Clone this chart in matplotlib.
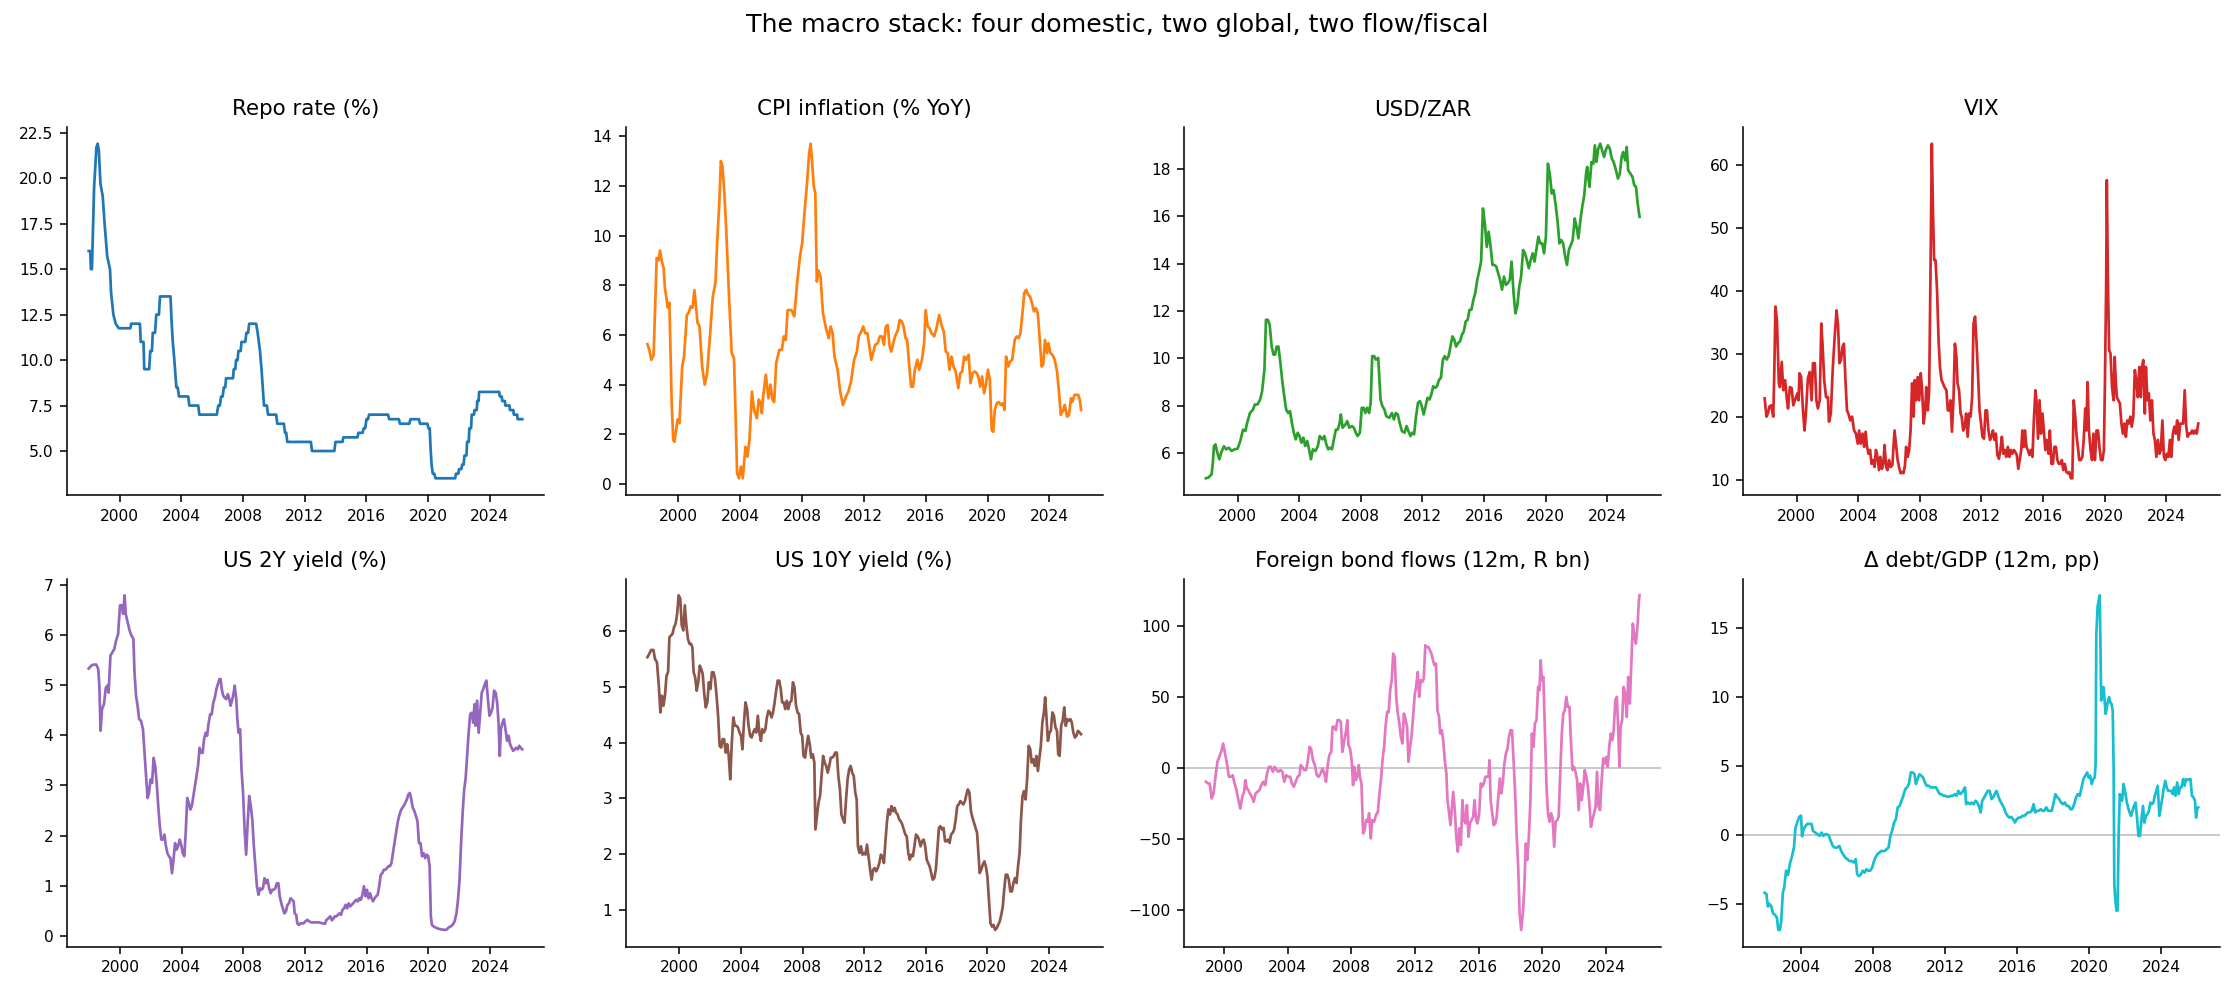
import matplotlib
matplotlib.use("Agg")
import matplotlib.pyplot as plt
from matplotlib.ticker import MultipleLocator, FuncFormatter

# ---------------- data (decimal year, value) ----------------
repo = [(1998.00,16.0),(1998.10,16.0),(1998.14,15.0),(1998.21,15.0),(1998.35,19.5),(1998.50,21.7),(1998.58,21.9),
        (1998.66,21.5),(1998.76,19.7),(1998.91,19.0),(1999.03,17.5),(1999.20,15.7),(1999.38,15.0),(1999.45,13.7),
        (1999.60,12.5),(1999.75,12.0),(1999.95,11.75),(2000.70,11.75),(2000.75,12.0),(2001.32,12.0),(2001.37,11.0),
        (2001.55,11.0),(2001.60,9.5),(2001.92,9.5),(2001.99,10.5),(2002.10,10.5),(2002.15,11.5),(2002.30,11.5),
        (2002.38,12.5),(2002.55,12.5),(2002.62,13.5),(2003.30,13.5),(2003.38,12.0),(2003.45,11.0),(2003.55,10.0),
        (2003.68,8.5),(2003.77,8.5),(2003.85,8.0),(2004.45,8.0),(2004.52,7.5),(2005.10,7.5),(2005.17,7.0),
        (2006.30,7.0),(2006.40,7.5),(2006.50,7.5),(2006.58,8.0),(2006.68,8.0),(2006.76,8.5),(2006.85,8.5),
        (2006.90,9.0),(2007.35,9.0),(2007.40,9.5),(2007.50,9.5),(2007.55,10.0),(2007.65,10.0),(2007.70,10.5),
        (2007.85,10.5),(2007.90,11.0),(2008.15,11.0),(2008.22,11.5),(2008.33,11.5),(2008.40,12.0),(2008.85,12.0),
        (2008.95,11.5),(2009.10,10.5),(2009.20,9.5),(2009.28,8.5),(2009.36,7.5),(2009.55,7.5),(2009.62,7.0),
        (2010.15,7.0),(2010.22,6.5),(2010.65,6.5),(2010.72,6.0),(2010.80,6.0),(2010.87,5.5),(2012.40,5.5),
        (2012.47,5.0),(2013.92,5.0),(2013.99,5.5),(2014.45,5.5),(2014.50,5.75),(2015.42,5.75),(2015.48,6.0),
        (2015.75,6.0),(2015.82,6.25),(2015.92,6.25),(2016.00,6.75),(2016.10,6.75),(2016.17,7.0),(2017.40,7.0),
        (2017.47,6.75),(2018.10,6.75),(2018.17,6.5),(2018.78,6.5),(2018.85,6.75),(2019.40,6.75),(2019.47,6.5),
        (2019.95,6.5),(2020.02,6.25),(2020.10,6.25),(2020.15,5.25),(2020.22,4.25),(2020.30,3.75),(2020.40,3.75),
        (2020.47,3.5),(2021.75,3.5),(2021.80,3.75),(2021.95,3.75),(2022.00,4.0),(2022.15,4.0),(2022.20,4.25),
        (2022.30,4.25),(2022.35,4.75),(2022.48,4.75),(2022.52,5.5),(2022.63,5.5),(2022.67,6.25),(2022.78,6.25),
        (2022.82,7.0),(2022.97,7.0),(2023.00,7.25),(2023.15,7.25),(2023.18,7.75),(2023.27,7.75),(2023.30,8.25),
        (2024.60,8.25),(2024.65,8.0),(2024.77,8.0),(2024.80,7.75),(2024.97,7.75),(2025.00,7.5),(2025.27,7.5),
        (2025.30,7.25),(2025.52,7.25),(2025.55,7.0),(2025.77,7.0),(2025.80,6.75),(2026.10,6.75)]

cpi = [(1998.00,5.63),(1998.12,5.4),(1998.25,5.0),(1998.4,5.2),(1998.6,9.1),(1998.72,9.0),(1998.82,9.4),(1998.93,8.96),
       (1999.05,8.7),(1999.13,7.9),(1999.25,7.4),(1999.32,7.1),(1999.42,7.3),(1999.57,3.25),(1999.67,1.77),(1999.75,1.7),
       (1999.95,2.6),(2000.07,2.45),(2000.25,4.73),(2000.37,5.13),(2000.55,6.8),(2000.67,6.9),(2000.8,7.15),(2000.92,7.1),
       (2001.04,7.8),(2001.24,6.5),(2001.37,6.34),(2001.54,4.73),(2001.71,4.0),(2001.86,4.46),(2002.06,6.07),(2002.23,7.55),
       (2002.4,8.1),(2002.53,9.97),(2002.65,11.3),(2002.75,13.0),(2002.85,12.8),(2002.98,11.7),(2003.1,10.2),(2003.28,7.55),
       (2003.45,5.27),(2003.6,5.07),(2003.7,2.85),(2003.8,0.43),(2003.92,0.23),(2004.05,0.7),(2004.17,0.23),(2004.34,1.5),
       (2004.47,1.1),(2004.6,1.77),(2004.76,3.72),(2004.9,2.98),(2005.08,2.65),(2005.2,3.4),(2005.33,3.25),(2005.4,2.85),
       (2005.5,3.59),(2005.66,4.4),(2005.83,3.45),(2005.96,4.0),(2006.08,3.4),(2006.2,3.3),(2006.33,4.87),(2006.53,5.4),
       (2006.7,5.4),(2006.82,5.94),(2006.95,5.8),(2007.07,7.0),(2007.32,7.0),(2007.5,6.75),(2007.7,8.2),(2007.87,9.16),
       (2008.01,9.7),(2008.14,10.77),(2008.31,12.0),(2008.46,13.3),(2008.56,13.7),(2008.66,12.9),(2008.76,12.0),
       (2008.86,11.7),(2008.96,8.15),(2009.06,8.6),(2009.2,8.35),(2009.35,6.9),(2009.55,6.27),(2009.73,5.87),
       (2009.85,6.34),(2009.98,6.07),(2010.1,5.13),(2010.3,4.6),(2010.47,3.72),(2010.65,3.18),(2010.84,3.52),(2011.0,3.72),
       (2011.17,4.12),(2011.37,5.0),(2011.55,5.33),(2011.67,5.94),(2011.84,6.14),(2011.96,6.34),(2012.09,6.07),
       (2012.23,6.07),(2012.36,5.54),(2012.48,5.0),(2012.6,5.27),(2012.73,5.6),(2012.9,5.67),(2013.03,5.94),(2013.18,5.94),
       (2013.3,5.6),(2013.42,6.34),(2013.54,6.4),(2013.67,5.54),(2013.77,5.33),(2013.9,5.67),(2014.02,5.94),(2014.2,6.2),
       (2014.32,6.6),(2014.45,6.55),(2014.57,6.34),(2014.7,5.87),(2014.8,5.8),(2014.96,4.6),(2015.06,3.92),(2015.18,3.92),
       (2015.3,4.6),(2015.46,5.0),(2015.58,4.6),(2015.76,5.0),(2015.9,5.67),(2016.0,7.0),(2016.13,6.34),(2016.25,6.27),
       (2016.38,6.07),(2016.55,5.94),(2016.7,6.27),(2016.87,6.8),(2017.05,6.34),(2017.17,6.14),(2017.3,5.33),(2017.42,5.27),
       (2017.54,4.6),(2017.67,5.13),(2017.8,4.73),(2017.94,4.53),(2018.11,3.86),(2018.24,4.46),(2018.36,4.53),
       (2018.49,5.13),(2018.6,5.0),(2018.78,5.2),(2018.9,4.06),(2019.03,4.46),(2019.18,4.53),(2019.3,4.46),(2019.4,4.33),
       (2019.53,3.92),(2019.65,4.33),(2019.78,3.65),(2019.9,4.0),(2020.03,4.6),(2020.15,4.2),(2020.27,2.18),(2020.37,2.1),
       (2020.47,2.98),(2020.6,3.25),(2020.72,3.3),(2020.87,3.18),(2021.0,3.25),(2021.1,2.98),(2021.2,5.13),(2021.34,4.73),
       (2021.46,4.93),(2021.6,5.0),(2021.76,5.8),(2021.89,5.94),(2022.01,5.87),(2022.13,6.07),(2022.26,6.88),(2022.38,7.69),
       (2022.5,7.82),(2022.63,7.62),(2022.75,7.55),(2022.88,7.28),(2023.0,6.95),(2023.13,7.08),(2023.25,6.88),
       (2023.35,6.07),(2023.5,4.73),(2023.6,4.8),(2023.72,5.8),(2023.85,5.27),(2023.94,5.67),(2024.07,5.27),(2024.2,5.2),
       (2024.35,5.0),(2024.5,4.53),(2024.62,3.72),(2024.74,2.78),(2024.9,2.98),(2025.0,3.18),(2025.15,2.71),(2025.27,2.78),
       (2025.4,3.45),(2025.5,3.32),(2025.63,3.59),(2025.75,3.59),(2025.87,3.59),(2025.97,3.39),(2026.05,2.98)]

zar = [(1997.94,4.95),(1998.1,4.98),(1998.31,5.12),(1998.39,5.6),(1998.46,6.3),(1998.56,6.38),(1998.68,6.03),(1998.81,5.75),
       (1998.93,6.03),(1999.11,6.3),(1999.26,6.17),(1999.43,6.24),(1999.6,6.1),(1999.8,6.17),(2000.0,6.2),(2000.17,6.52),
       (2000.35,7.0),(2000.5,6.94),(2000.62,7.29),(2000.8,7.7),(2001.0,7.85),(2001.12,8.06),(2001.29,8.06),(2001.46,8.27),
       (2001.59,8.62),(2001.74,9.53),(2001.84,11.63),(2001.96,11.63),(2002.08,11.42),(2002.21,10.5),(2002.33,10.16),
       (2002.43,10.16),(2002.53,10.5),(2002.65,10.5),(2002.78,9.8),(2002.9,9.04),(2003.03,8.4),(2003.15,7.85),(2003.28,7.7),
       (2003.4,7.78),(2003.52,7.29),(2003.65,6.87),(2003.77,6.59),(2003.9,6.87),(2004.02,6.73),(2004.14,6.45),(2004.27,6.66),
       (2004.39,6.31),(2004.52,6.52),(2004.64,6.17),(2004.76,5.75),(2004.89,6.17),(2005.06,6.1),(2005.21,6.31),
       (2005.33,6.73),(2005.51,6.59),(2005.63,6.73),(2005.76,6.38),(2005.88,6.17),(2006.0,6.24),(2006.13,6.17),
       (2006.25,6.59),(2006.38,7.0),(2006.5,7.0),(2006.63,7.29),(2006.7,7.64),(2006.82,7.08),(2007.0,7.22),(2007.12,7.36),
       (2007.25,7.08),(2007.42,7.15),(2007.55,7.08),(2007.67,6.87),(2007.79,6.73),(2007.94,6.87),(2008.06,7.92),
       (2008.18,7.92),(2008.29,7.7),(2008.41,7.92),(2008.54,7.7),(2008.64,8.13),(2008.74,10.1),(2008.86,10.1),
       (2008.98,9.95),(2009.13,10.02),(2009.28,8.27),(2009.4,7.99),(2009.53,7.85),(2009.65,7.57),(2009.85,7.5),
       (2010.02,7.7),(2010.15,7.43),(2010.27,7.7),(2010.4,7.64),(2010.52,7.29),(2010.67,6.94),(2010.84,6.87),
       (2010.97,7.15),(2011.09,6.94),(2011.22,6.73),(2011.34,6.87),(2011.46,6.8),(2011.59,7.57),(2011.71,8.13),
       (2011.84,8.2),(2011.96,7.99),(2012.08,7.64),(2012.21,7.99),(2012.33,8.34),(2012.46,8.27),(2012.58,8.48),
       (2012.7,8.83),(2012.83,8.76),(2012.95,8.83),(2013.08,9.1),(2013.2,9.18),(2013.33,9.95),(2013.45,10.1),
       (2013.57,9.95),(2013.7,10.1),(2013.82,10.5),(2013.95,10.93),(2014.07,10.79),(2014.19,10.5),(2014.32,10.65),
       (2014.44,10.72),(2014.57,11.0),(2014.69,11.14),(2014.81,11.56),(2014.94,11.63),(2015.06,12.05),(2015.18,12.05),
       (2015.31,12.47),(2015.43,12.75),(2015.56,13.3),(2015.68,13.66),(2015.81,14.08),(2015.93,16.32),(2016.05,15.7),
       (2016.18,14.7),(2016.3,15.34),(2016.43,14.7),(2016.55,13.94),(2016.67,13.94),(2016.8,13.87),(2016.92,13.59),
       (2017.05,13.3),(2017.17,12.9),(2017.3,13.45),(2017.42,13.1),(2017.54,13.17),(2017.67,13.3),(2017.79,14.08),
       (2017.92,12.75),(2018.04,11.9),(2018.16,12.2),(2018.29,13.03),(2018.41,13.45),(2018.54,14.57),(2018.66,14.43),
       (2018.78,14.15),(2018.91,13.8),(2019.03,14.15),(2019.16,14.43),(2019.28,14.08),(2019.4,14.57),(2019.53,15.13),
       (2019.65,14.85),(2019.78,14.85),(2019.9,14.43),(2020.02,15.13),(2020.15,18.21),(2020.27,17.79),(2020.4,16.95),
       (2020.52,17.09),(2020.64,16.53),(2020.77,15.83),(2020.9,14.85),(2021.02,14.99),(2021.14,14.85),(2021.27,14.29),
       (2021.39,13.94),(2021.51,14.57),(2021.64,14.78),(2021.76,14.99),(2021.89,15.9),(2022.01,15.55),(2022.13,15.06),
       (2022.26,15.83),(2022.38,16.39),(2022.51,16.88),(2022.63,17.79),(2022.7,18.07),(2022.78,17.58),(2022.85,17.23),
       (2022.98,18.28),(2023.1,18.21),(2023.2,18.98),(2023.3,18.28),(2023.42,18.84),(2023.55,19.05),(2023.67,18.77),
       (2023.8,18.49),(2023.9,18.77),(2024.05,18.98),(2024.17,18.84),(2024.3,18.42),(2024.42,18.28),(2024.57,17.93),
       (2024.7,17.58),(2024.82,17.79),(2024.94,18.49),(2025.04,18.7),(2025.17,18.35),(2025.27,18.91),(2025.36,17.93),
       (2025.51,17.79),(2025.64,17.65),(2025.76,17.3),(2025.87,17.23),(2025.98,16.53),(2026.1,15.97)]

vix = [(1997.92,22.9),(1998.04,20.0),(1998.13,20.5),(1998.23,21.6),(1998.35,21.8),(1998.48,20.0),(1998.55,27.4),
       (1998.62,37.5),(1998.72,35.3),(1998.84,25.3),(1998.91,24.7),(1999.03,28.7),(1999.13,24.2),(1999.25,25.8),
       (1999.35,23.1),(1999.44,21.3),(1999.56,24.7),(1999.68,24.5),(1999.78,21.8),(1999.93,22.9),(2000.05,23.7),
       (2000.12,22.6),(2000.19,26.9),(2000.29,26.3),(2000.41,21.0),(2000.51,17.8),(2000.6,20.5),(2000.73,26.1),
       (2000.85,27.1),(2000.97,22.6),(2001.06,28.5),(2001.18,28.5),(2001.28,22.6),(2001.38,21.3),(2001.5,22.6),
       (2001.6,34.8),(2001.69,31.1),(2001.79,25.8),(2001.91,23.1),(2002.03,23.1),(2002.1,19.2),(2002.22,20.5),
       (2002.35,27.9),(2002.47,32.7),(2002.59,36.9),(2002.69,34.5),(2002.78,28.5),(2002.88,29.0),(2002.98,31.1),
       (2003.07,31.6),(2003.17,25.8),(2003.27,21.0),(2003.36,20.5),(2003.48,19.4),(2003.6,20.0),(2003.73,17.8),
       (2003.85,17.3),(2003.97,15.7),(2004.06,17.8),(2004.16,15.7),(2004.28,17.3),(2004.38,15.2),(2004.48,17.6),
       (2004.57,15.2),(2004.67,14.1),(2004.77,14.7),(2004.86,12.5),(2004.96,13.1),(2005.06,12.0),(2005.15,14.7),
       (2005.25,13.6),(2005.35,11.5),(2005.44,13.6),(2005.54,11.7),(2005.64,12.8),(2005.71,15.5),(2005.81,12.0),
       (2005.9,11.5),(2006.0,13.1),(2006.1,12.0),(2006.22,12.3),(2006.29,15.2),(2006.36,17.8),(2006.46,15.5),
       (2006.56,13.1),(2006.65,12.0),(2006.75,11.0),(2006.85,11.2),(2006.94,11.0),(2007.04,12.3),(2007.11,15.2),
       (2007.21,13.6),(2007.31,14.7),(2007.4,17.8),(2007.5,25.3),(2007.6,20.0),(2007.67,25.8),(2007.77,22.6),
       (2007.86,26.3),(2007.96,22.6),(2008.06,26.9),(2008.15,24.2),(2008.25,18.9),(2008.35,21.0),(2008.42,24.7),
       (2008.52,21.0),(2008.61,24.2),(2008.69,41.7),(2008.78,63.4),(2008.86,52.3),(2008.93,44.9),(2009.02,44.9),
       (2009.12,40.1),(2009.22,32.2),(2009.31,27.9),(2009.41,25.8),(2009.51,25.3),(2009.6,24.7),(2009.73,24.2),
       (2009.82,21.0),(2009.92,21.0),(2009.99,22.6),(2010.09,17.6),(2010.19,22.9),(2010.28,31.6),(2010.38,29.5),
       (2010.45,25.3),(2010.55,24.2),(2010.65,20.5),(2010.72,20.0),(2010.82,17.8),(2010.92,18.4),(2011.01,20.5),
       (2011.11,16.8),(2011.21,20.5),(2011.3,20.0),(2011.4,23.1),(2011.49,34.8),(2011.59,35.9),(2011.69,31.6),
       (2011.78,26.9),(2011.88,21.0),(2011.98,18.9),(2012.07,16.8),(2012.17,16.5),(2012.27,21.0),(2012.36,21.0),
       (2012.46,17.8),(2012.56,16.3),(2012.65,16.8),(2012.75,17.8),(2012.85,16.3),(2012.94,17.3),(2013.04,13.9),
       (2013.14,13.3),(2013.24,14.7),(2013.33,16.8),(2013.43,14.1),(2013.53,14.7),(2013.62,13.6),(2013.72,15.2),
       (2013.82,13.6),(2013.91,14.7),(2014.01,14.1),(2014.11,14.7),(2014.2,14.4),(2014.3,13.9),(2014.4,11.7),
       (2014.49,13.1),(2014.59,14.7),(2014.66,17.8),(2014.76,15.2),(2014.83,17.8),(2014.93,15.2),(2015.02,14.7),
       (2015.12,13.9),(2015.22,14.7),(2015.32,13.6),(2015.41,19.4),(2015.51,24.2),(2015.58,22.6),(2015.68,16.5),
       (2015.78,22.6),(2015.87,17.3),(2015.97,20.5),(2016.06,17.8),(2016.16,14.7),(2016.26,16.3),(2016.36,14.1),
       (2016.45,17.8),(2016.55,12.5),(2016.65,12.5),(2016.74,15.2),(2016.84,15.2),(2016.94,13.1),(2017.03,12.5),
       (2017.13,12.5),(2017.23,13.1),(2017.32,11.5),(2017.42,12.5),(2017.52,11.2),(2017.62,11.0),(2017.72,11.2),
       (2017.81,10.2),(2017.91,10.2),(2018.0,22.6),(2018.1,20.0),(2018.19,16.8),(2018.27,15.2),(2018.36,13.1),
       (2018.46,13.1),(2018.56,13.6),(2018.65,16.3),(2018.75,21.3),(2018.82,17.8),(2018.9,25.5),(2018.99,17.8),
       (2019.09,14.7),(2019.19,13.1),(2019.28,17.3),(2019.38,13.1),(2019.48,17.8),(2019.58,17.8),(2019.67,15.2),
       (2019.77,13.1),(2019.87,13.1),(2019.96,14.7),(2020.03,25.8),(2020.11,41.7),(2020.15,57.6),(2020.22,41.7),
       (2020.3,30.6),(2020.39,30.0),(2020.49,24.7),(2020.59,22.6),(2020.66,29.5),(2020.73,25.8),(2020.8,23.1),
       (2020.9,22.6),(2021.0,22.1),(2021.1,18.9),(2021.19,17.3),(2021.29,18.9),(2021.39,16.8),(2021.48,19.4),
       (2021.58,18.9),(2021.68,20.0),(2021.77,18.4),(2021.87,20.0),(2021.97,27.4),(2022.06,25.8),(2022.16,23.1),
       (2022.26,27.9),(2022.36,23.1),(2022.43,27.9),(2022.52,29.0),(2022.62,20.5),(2022.69,27.9),(2022.79,22.6),
       (2022.88,23.7),(2022.98,19.4),(2023.08,22.6),(2023.18,17.3),(2023.27,16.3),(2023.37,13.6),(2023.47,16.3),
       (2023.57,14.1),(2023.66,14.7),(2023.76,19.4),(2023.86,13.6),(2023.95,13.1),(2024.05,14.1),(2024.15,13.6),
       (2024.25,16.3),(2024.34,13.6),(2024.44,17.3),(2024.54,18.4),(2024.63,17.3),(2024.72,19.4),(2024.82,16.3),
       (2024.92,18.9),(2025.01,18.9),(2025.11,18.9),(2025.21,24.2),(2025.31,18.4),(2025.4,16.8),(2025.5,17.3),
       (2025.6,17.3),(2025.69,17.8),(2025.79,17.3),(2025.89,17.8),(2025.99,17.3),(2026.09,18.9)]

us2y = [(1997.97,5.33),(1998.14,5.39),(1998.31,5.41),(1998.46,5.41),(1998.59,5.32),(1998.66,4.99),(1998.74,4.09),
        (1998.83,4.52),(1998.96,4.62),(1999.08,4.95),(1999.18,4.99),(1999.26,4.85),(1999.38,5.59),(1999.5,5.65),
        (1999.63,5.72),(1999.75,5.89),(1999.88,6.02),(2000.0,6.59),(2000.12,6.59),(2000.2,6.42),(2000.3,6.79),
        (2000.37,6.42),(2000.5,6.25),(2000.62,6.09),(2000.74,5.99),(2000.87,5.92),(2000.94,5.25),(2001.04,4.79),
        (2001.14,4.59),(2001.24,4.32),(2001.36,4.29),(2001.49,4.12),(2001.59,3.65),(2001.69,3.19),(2001.79,2.75),
        (2001.88,2.85),(2001.98,3.12),(2002.08,3.05),(2002.18,3.55),(2002.28,3.39),(2002.38,3.05),(2002.48,2.59),
        (2002.58,2.19),(2002.68,1.92),(2002.78,1.92),(2002.88,2.02),(2002.98,1.79),(2003.07,1.65),(2003.17,1.59),
        (2003.27,1.55),(2003.37,1.25),(2003.47,1.52),(2003.57,1.85),(2003.67,1.72),(2003.77,1.79),(2003.87,1.92),
        (2003.97,1.82),(2004.07,1.65),(2004.17,1.59),(2004.26,2.05),(2004.36,2.75),(2004.46,2.65),(2004.56,2.52),
        (2004.66,2.59),(2004.76,2.79),(2004.86,2.99),(2004.96,3.19),(2005.06,3.39),(2005.16,3.75),(2005.26,3.65),
        (2005.36,3.65),(2005.45,3.92),(2005.55,4.05),(2005.65,3.99),(2005.75,4.25),(2005.85,4.42),(2005.95,4.42),
        (2006.05,4.65),(2006.15,4.75),(2006.25,4.92),(2006.35,5.02),(2006.45,5.12),(2006.52,5.12),(2006.6,4.92),
        (2006.69,4.79),(2006.79,4.75),(2006.89,4.72),(2006.99,4.82),(2007.09,4.72),(2007.17,4.59),(2007.26,4.69),
        (2007.34,4.79),(2007.44,4.99),(2007.54,4.72),(2007.61,4.32),(2007.69,4.05),(2007.79,4.12),(2007.88,3.32),
        (2007.98,2.85),(2008.08,2.12),(2008.18,1.62),(2008.28,2.25),(2008.38,2.79),(2008.48,2.59),(2008.58,2.32),
        (2008.68,1.79),(2008.78,1.39),(2008.88,0.99),(2008.98,0.82),(2009.08,0.95),(2009.17,0.92),(2009.27,0.95),
        (2009.37,1.15),(2009.47,1.05),(2009.57,1.12),(2009.67,0.95),(2009.77,0.85),(2009.87,0.92),(2009.97,0.92),
        (2010.07,0.95),(2010.17,1.05),(2010.27,1.05),(2010.36,0.79),(2010.46,0.65),(2010.56,0.55),(2010.66,0.45),
        (2010.76,0.49),(2010.86,0.62),(2010.96,0.65),(2011.06,0.75),(2011.16,0.72),(2011.26,0.69),(2011.33,0.45),
        (2011.43,0.42),(2011.5,0.25),(2011.6,0.22),(2011.7,0.25),(2011.8,0.25),(2011.9,0.25),(2012.02,0.29),
        (2012.15,0.32),(2012.27,0.29),(2012.4,0.27),(2012.64,0.27),(2012.89,0.27),(2013.14,0.25),(2013.29,0.24),
        (2013.39,0.32),(2013.51,0.35),(2013.64,0.39),(2013.74,0.31),(2013.84,0.35),(2013.93,0.39),(2014.03,0.39),
        (2014.13,0.42),(2014.23,0.45),(2014.33,0.42),(2014.43,0.52),(2014.53,0.55),(2014.63,0.62),(2014.73,0.55),
        (2014.83,0.65),(2014.93,0.59),(2015.03,0.62),(2015.12,0.65),(2015.22,0.69),(2015.32,0.72),(2015.42,0.69),
        (2015.52,0.75),(2015.62,0.72),(2015.72,0.82),(2015.82,0.99),(2015.92,0.79),(2016.02,0.92),(2016.12,0.75),
        (2016.22,0.85),(2016.32,0.75),(2016.41,0.69),(2016.51,0.75),(2016.61,0.79),(2016.71,0.82),(2016.81,0.99),
        (2016.91,1.22),(2017.01,1.25),(2017.11,1.32),(2017.21,1.32),(2017.31,1.35),(2017.41,1.39),(2017.51,1.39),
        (2017.6,1.45),(2017.7,1.65),(2017.8,1.85),(2017.9,2.05),(2018.0,2.25),(2018.1,2.39),(2018.2,2.49),(2018.3,2.55),
        (2018.4,2.59),(2018.5,2.65),(2018.6,2.72),(2018.7,2.82),(2018.8,2.85),(2018.89,2.72),(2018.99,2.55),
        (2019.09,2.49),(2019.19,2.39),(2019.29,2.29),(2019.39,1.85),(2019.49,1.85),(2019.59,1.59),(2019.69,1.65),
        (2019.79,1.55),(2019.89,1.62),(2019.99,1.59),(2020.08,1.39),(2020.16,0.39),(2020.23,0.22),(2020.33,0.19),
        (2020.58,0.15),(2020.83,0.13),(2021.08,0.12),(2021.2,0.13),(2021.32,0.17),(2021.45,0.19),(2021.57,0.22),
        (2021.7,0.29),(2021.82,0.45),(2021.92,0.72),(2022.02,1.12),(2022.12,1.85),(2022.22,2.45),(2022.32,2.92),
        (2022.41,3.12),(2022.51,3.59),(2022.61,4.05),(2022.71,4.42),(2022.81,4.45),(2022.91,4.25),(2022.99,4.62),
        (2023.06,4.19),(2023.16,4.69),(2023.26,4.05),(2023.36,4.45),(2023.46,4.85),(2023.56,4.92),(2023.66,5.02),
        (2023.76,5.09),(2023.86,4.72),(2023.96,4.39),(2024.06,4.45),(2024.16,4.55),(2024.26,4.89),(2024.36,4.85),
        (2024.46,4.65),(2024.55,4.25),(2024.63,3.59),(2024.7,4.12),(2024.8,4.25),(2024.9,4.32),(2025.0,4.12),
        (2025.1,3.89),(2025.2,3.99),(2025.3,3.82),(2025.4,3.75),(2025.5,3.69),(2025.6,3.72),(2025.69,3.75),
        (2025.79,3.72),(2025.89,3.79),(2025.99,3.75),(2026.09,3.72)]

us10y = [(1997.92,5.53),(1998.04,5.59),(1998.16,5.66),(1998.31,5.66),(1998.41,5.5),(1998.54,5.44),(1998.66,5.02),
         (1998.76,4.54),(1998.86,4.84),(1998.96,4.66),(1999.06,4.84),(1999.16,5.2),(1999.26,5.26),(1999.35,5.89),
         (1999.45,5.92),(1999.55,5.95),(1999.65,6.07),(1999.75,6.13),(1999.85,6.31),(1999.95,6.64),(2000.05,6.58),
         (2000.15,6.1),(2000.25,6.01),(2000.35,6.46),(2000.45,6.1),(2000.55,5.86),(2000.65,5.77),(2000.75,5.77),
         (2000.84,5.71),(2000.92,5.26),(2001.02,5.17),(2001.12,4.93),(2001.22,5.08),(2001.32,5.38),(2001.41,5.32),
         (2001.51,5.23),(2001.61,4.87),(2001.71,4.63),(2001.81,4.72),(2001.91,5.08),(2002.01,4.96),(2002.11,5.26),
         (2002.21,5.26),(2002.31,5.14),(2002.41,4.84),(2002.51,4.48),(2002.61,3.94),(2002.71,3.91),(2002.8,4.06),
         (2002.9,4.06),(2003.0,3.82),(2003.1,3.97),(2003.2,3.76),(2003.3,3.34),(2003.4,4.0),(2003.5,4.45),(2003.6,4.3),
         (2003.7,4.3),(2003.8,4.27),(2003.9,4.18),(2004.0,4.12),(2004.09,3.88),(2004.19,4.36),(2004.29,4.72),(2004.39,4.6),
         (2004.49,4.3),(2004.59,4.12),(2004.69,4.09),(2004.79,4.18),(2004.89,4.24),(2004.99,4.18),(2005.09,4.48),
         (2005.19,4.18),(2005.29,4.03),(2005.38,4.24),(2005.48,4.18),(2005.58,4.24),(2005.68,4.45),(2005.78,4.57),
         (2005.88,4.54),(2005.98,4.45),(2006.08,4.54),(2006.18,4.72),(2006.28,4.93),(2006.38,5.11),(2006.48,5.11),
         (2006.58,4.96),(2006.67,4.72),(2006.77,4.72),(2006.87,4.6),(2006.97,4.75),(2007.07,4.6),(2007.17,4.72),
         (2007.27,4.75),(2007.37,5.08),(2007.47,4.99),(2007.57,4.66),(2007.67,4.54),(2007.77,4.51),(2007.87,4.18),
         (2007.97,4.12),(2008.06,3.76),(2008.16,3.73),(2008.26,3.94),(2008.36,4.12),(2008.46,3.97),(2008.56,3.73),
         (2008.66,3.79),(2008.76,3.64),(2008.83,2.44),(2008.93,2.68),(2009.03,2.92),(2009.13,3.04),(2009.23,3.4),
         (2009.33,3.76),(2009.43,3.64),(2009.53,3.58),(2009.63,3.46),(2009.73,3.58),(2009.83,3.73),(2009.93,3.73),
         (2010.02,3.76),(2010.12,3.82),(2010.22,3.82),(2010.32,3.4),(2010.42,3.16),(2010.52,2.71),(2010.62,2.62),
         (2010.72,2.56),(2010.82,2.98),(2010.92,3.34),(2011.02,3.52),(2011.12,3.58),(2011.22,3.46),(2011.32,3.4),
         (2011.42,3.1),(2011.51,2.98),(2011.59,2.14),(2011.69,2.02),(2011.79,2.14),(2011.89,1.99),(2011.99,2.02),
         (2012.08,1.99),(2012.18,2.17),(2012.28,1.96),(2012.38,1.72),(2012.48,1.54),(2012.58,1.72),(2012.68,1.75),
         (2012.78,1.69),(2012.88,1.75),(2012.98,1.84),(2013.08,1.99),(2013.18,1.96),(2013.28,1.84),(2013.37,2.2),
         (2013.47,2.56),(2013.57,2.8),(2013.67,2.71),(2013.77,2.86),(2013.87,2.77),(2013.97,2.83),(2014.07,2.74),
         (2014.17,2.71),(2014.27,2.62),(2014.37,2.59),(2014.47,2.53),(2014.57,2.44),(2014.67,2.35),(2014.76,2.32),
         (2014.86,2.02),(2014.96,1.9),(2015.06,1.99),(2015.16,1.96),(2015.26,2.14),(2015.36,2.35),(2015.46,2.32),
         (2015.56,2.26),(2015.66,2.14),(2015.76,2.23),(2015.86,2.26),(2015.96,2.14),(2016.06,1.9),(2016.15,1.84),
         (2016.25,1.78),(2016.35,1.66),(2016.45,1.54),(2016.55,1.57),(2016.65,1.72),(2016.75,2.08),(2016.85,2.47),
         (2016.95,2.5),(2017.05,2.44),(2017.15,2.47),(2017.25,2.23),(2017.35,2.23),(2017.44,2.26),(2017.54,2.2),
         (2017.64,2.35),(2017.74,2.38),(2017.84,2.44),(2017.94,2.62),(2018.04,2.86),(2018.14,2.89),(2018.24,2.95),
         (2018.34,2.92),(2018.44,2.89),(2018.54,2.95),(2018.64,3.07),(2018.73,3.16),(2018.83,3.1),(2018.93,2.77),
         (2019.03,2.65),(2019.13,2.56),(2019.23,2.47),(2019.33,2.38),(2019.4,2.08),(2019.5,1.66),(2019.6,1.72),
         (2019.7,1.81),(2019.8,1.87),(2019.9,1.78),(2020.0,1.6),(2020.1,1.18),(2020.2,0.76),(2020.3,0.7),(2020.4,0.73),
         (2020.5,0.64),(2020.6,0.67),(2020.7,0.73),(2020.8,0.79),(2020.9,0.91),(2021.0,1.06),(2021.09,1.36),(2021.19,1.63),
         (2021.29,1.63),(2021.39,1.54),(2021.49,1.33),(2021.59,1.33),(2021.69,1.48),(2021.79,1.57),(2021.89,1.48),
         (2021.99,1.78),(2022.09,2.02),(2022.18,2.62),(2022.28,3.04),(2022.38,3.13),(2022.48,2.98),(2022.58,3.34),
         (2022.68,3.94),(2022.78,3.88),(2022.88,3.64),(2022.98,3.7),(2023.08,3.58),(2023.18,3.76),(2023.28,3.49),
         (2023.37,3.7),(2023.47,3.94),(2023.57,4.36),(2023.67,4.54),(2023.75,4.81),(2023.83,4.48),(2023.93,4.03),
         (2024.03,4.18),(2024.12,4.21),(2024.22,4.54),(2024.32,4.48),(2024.42,4.27),(2024.52,4.21),(2024.6,3.79),
         (2024.69,3.76),(2024.79,4.3),(2024.89,4.39),(2024.99,4.63),(2025.09,4.3),(2025.19,4.42),(2025.29,4.39),
         (2025.39,4.42),(2025.48,4.36),(2025.58,4.18),(2025.68,4.09),(2025.78,4.12),(2025.88,4.21),(2025.98,4.18),
         (2026.08,4.15)]

flows = [(1998.87,-9.8),(1998.99,-11.0),(1999.11,-11.0),(1999.23,-21.5),(1999.35,-18.0),(1999.47,-6.3),(1999.59,4.2),
         (1999.71,7.7),(1999.83,11.2),(1999.95,17.1),(2000.07,10.1),(2000.19,3.0),(2000.31,-6.3),(2000.43,-6.3),
         (2000.55,-5.2),(2000.67,-11.0),(2000.79,-15.7),(2000.91,-22.7),(2001.03,-28.6),(2001.15,-20.4),(2001.27,-16.9),
         (2001.34,-8.7),(2001.44,-14.5),(2001.53,-15.7),(2001.63,-18.0),(2001.75,-20.4),(2001.87,-23.9),(2001.99,-18.0),
         (2002.11,-16.9),(2002.23,-15.7),(2002.35,-12.2),(2002.47,-9.8),(2002.59,-12.2),(2002.71,-4.0),(2002.83,0.7),
         (2002.95,0.7),(2003.07,-2.8),(2003.19,0.7),(2003.31,-1.6),(2003.43,-2.8),(2003.55,-1.6),(2003.67,-2.8),
         (2003.79,-9.8),(2003.91,-5.2),(2004.03,-6.3),(2004.15,-6.3),(2004.27,-11.0),(2004.39,-13.3),(2004.51,-9.8),
         (2004.63,-6.3),(2004.75,-5.2),(2004.82,1.9),(2004.92,0.7),(2005.04,-1.6),(2005.16,-1.6),(2005.26,4.2),
         (2005.38,14.8),(2005.47,13.6),(2005.59,5.4),(2005.71,1.9),(2005.83,-5.2),(2005.95,-6.3),(2006.07,-4.0),
         (2006.19,-0.5),(2006.31,-4.0),(2006.41,-9.8),(2006.53,3.0),(2006.62,8.9),(2006.74,11.2),(2006.82,28.8),
         (2006.94,28.8),(2007.03,26.5),(2007.13,33.5),(2007.25,33.5),(2007.34,32.3),(2007.44,11.2),(2007.56,19.4),
         (2007.68,26.5),(2007.75,33.5),(2007.82,15.9),(2007.92,13.6),(2008.02,5.4),(2008.11,-12.2),(2008.18,0.7),
         (2008.28,-8.7),(2008.37,-6.3),(2008.47,1.9),(2008.54,-6.3),(2008.64,-11.0),(2008.74,-46.1),(2008.83,-43.8),
         (2008.93,-36.8),(2009.02,-37.9),(2009.12,-32.0),(2009.22,-49.6),(2009.31,-36.8),(2009.43,-37.9),(2009.55,-33.3),
         (2009.67,-30.9),(2009.77,-18.0),(2009.86,-8.7),(2009.96,5.4),(2010.06,14.8),(2010.15,28.8),(2010.25,39.3),
         (2010.35,39.3),(2010.44,54.6),(2010.54,61.6),(2010.63,80.3),(2010.73,78.0),(2010.82,49.9),(2010.92,38.2),
         (2011.02,31.1),(2011.11,21.8),(2011.21,17.1),(2011.3,38.2),(2011.4,34.7),(2011.5,28.8),(2011.59,4.2),
         (2011.69,14.8),(2011.78,21.8),(2011.88,35.8),(2011.98,51.1),(2012.07,56.9),(2012.17,67.4),(2012.26,49.9),
         (2012.36,61.6),(2012.46,60.4),(2012.55,62.8),(2012.65,86.2),(2012.74,85.0),(2012.84,85.0),(2012.94,82.7),
         (2013.03,80.3),(2013.13,75.6),(2013.22,72.1),(2013.32,73.3),(2013.41,40.5),(2013.51,35.8),(2013.58,24.1),
         (2013.68,26.5),(2013.77,19.4),(2013.87,5.4),(2013.97,-4.0),(2014.04,-22.7),(2014.14,-32.0),(2014.23,-40.3),
         (2014.31,-29.7),(2014.4,-16.9),(2014.5,-29.7),(2014.59,-48.5),(2014.69,-59.0),(2014.78,-42.6),(2014.88,-54.3),
         (2014.98,-22.7),(2015.07,-36.8),(2015.17,-39.1),(2015.26,-26.2),(2015.36,-48.5),(2015.45,-39.1),(2015.55,-36.8),
         (2015.65,-34.4),(2015.74,-22.7),(2015.84,-36.8),(2015.93,-39.1),(2016.03,-32.0),(2016.13,-11.0),(2016.22,-13.3),
         (2016.32,-11.0),(2016.42,-6.3),(2016.51,-6.3),(2016.61,-6.3),(2016.68,5.4),(2016.75,-22.7),(2016.85,-32.0),
         (2016.94,-40.3),(2017.04,-39.1),(2017.13,-34.4),(2017.23,-20.4),(2017.33,-7.5),(2017.42,-18.0),(2017.52,-9.8),
         (2017.61,3.0),(2017.71,10.1),(2017.81,13.6),(2017.9,21.8),(2018.0,26.5),(2018.09,26.5),(2018.19,5.4),
         (2018.29,-18.0),(2018.38,-46.1),(2018.48,-69.6),(2018.57,-102.3),(2018.67,-114.0),(2018.77,-102.3),
         (2018.86,-86.0),(2018.96,-53.2),(2019.05,-64.9),(2019.15,-48.5),(2019.25,-22.7),(2019.34,24.1),(2019.44,14.8),
         (2019.53,31.1),(2019.63,33.5),(2019.73,56.9),(2019.82,54.6),(2019.89,75.6),(2019.97,61.6),(2020.06,63.9),
         (2020.16,24.1),(2020.26,-13.3),(2020.35,-32.0),(2020.45,-37.9),(2020.54,-32.0),(2020.64,-35.6),(2020.74,-55.5),
         (2020.83,-37.9),(2020.93,-36.8),(2021.02,-34.4),(2021.12,-4.0),(2021.22,24.1),(2021.31,38.2),(2021.41,40.5),
         (2021.5,49.9),(2021.6,42.9),(2021.7,42.9),(2021.79,19.4),(2021.89,-1.6),(2021.98,0.7),(2022.08,-2.8),
         (2022.18,-8.7),(2022.28,-29.7),(2022.37,-11.0),(2022.47,-22.7),(2022.57,-13.3),(2022.66,-1.6),(2022.76,-6.3),
         (2022.86,-13.3),(2022.95,-25.0),(2023.05,-41.5),(2023.14,-36.8),(2023.24,-32.0),(2023.34,-27.4),(2023.43,-2.8),
         (2023.53,-27.4),(2023.62,-29.7),(2023.72,-8.7),(2023.82,6.6),(2023.91,3.0),(2024.01,7.7),(2024.1,0.7),
         (2024.2,14.8),(2024.3,24.1),(2024.39,19.4),(2024.48,26.5),(2024.58,47.5),(2024.68,49.9),(2024.77,24.1),
         (2024.84,0.7),(2024.91,28.8),(2025.01,33.5),(2025.1,56.9),(2025.2,52.2),(2025.3,35.8),(2025.39,63.9),
         (2025.49,45.2),(2025.58,71.0),(2025.68,101.4),(2025.78,92.0),(2025.87,87.4),(2025.97,99.0),(2026.06,117.8),
         (2026.1,121.3)]

debt = [(2001.98,-4.2),(2002.08,-4.3),(2002.16,-5.2),(2002.24,-5.0),(2002.35,-5.2),(2002.45,-5.7),(2002.55,-5.8),
        (2002.66,-6.0),(2002.74,-6.9),(2002.82,-6.9),(2002.9,-6.3),(2002.99,-4.2),(2003.07,-3.8),(2003.17,-2.6),
        (2003.28,-2.9),(2003.38,-2.1),(2003.48,-1.65),(2003.61,-0.9),(2003.69,0.5),(2003.79,0.9),(2003.9,1.3),
        (2004.0,1.4),(2004.06,-0.1),(2004.14,0.4),(2004.25,0.65),(2004.35,0.8),(2004.48,0.8),(2004.58,0.8),
        (2004.66,0.3),(2004.79,0.17),(2004.91,0.05),(2005.03,-0.07),(2005.14,0.17),(2005.24,-0.07),(2005.34,0.05),
        (2005.45,0.05),(2005.55,-0.07),(2005.65,-0.44),(2005.76,-0.8),(2005.88,-0.92),(2006.0,-0.92),(2006.13,-0.8),
        (2006.23,-1.17),(2006.33,-1.4),(2006.46,-1.65),(2006.58,-1.77),(2006.69,-1.9),(2006.81,-1.9),(2006.93,-2.0),
        (2007.04,-1.77),(2007.12,-2.86),(2007.22,-3.0),(2007.33,-2.86),(2007.43,-2.6),(2007.53,-2.74),(2007.64,-2.5),
        (2007.74,-2.6),(2007.84,-2.6),(2007.95,-2.38),(2008.03,-2.0),(2008.13,-1.65),(2008.24,-1.4),(2008.34,-1.3),
        (2008.45,-1.17),(2008.55,-1.17),(2008.65,-1.17),(2008.75,-1.04),(2008.86,-0.92),(2008.96,-0.07),(2009.06,0.3),
        (2009.17,0.9),(2009.27,1.14),(2009.37,2.0),(2009.48,2.1),(2009.58,2.48),(2009.68,2.84),(2009.79,3.33),
        (2009.89,3.45),(2009.99,3.7),(2010.1,4.54),(2010.2,4.54),(2010.3,4.4),(2010.38,3.7),(2010.47,4.05),(2010.57,4.4),
        (2010.68,4.3),(2010.78,4.17),(2010.88,3.8),(2010.98,3.57),(2011.09,3.57),(2011.19,3.45),(2011.29,3.45),
        (2011.4,3.45),(2011.5,3.45),(2011.6,3.2),(2011.71,2.96),(2011.81,2.96),(2011.91,2.84),(2012.02,2.84),
        (2012.12,2.77),(2012.22,2.77),(2012.33,2.84),(2012.43,2.84),(2012.53,2.96),(2012.64,2.84),(2012.74,3.2),
        (2012.84,2.96),(2012.95,3.08),(2013.05,3.33),(2013.11,3.45),(2013.17,2.23),(2013.28,2.35),(2013.38,2.23),
        (2013.48,2.35),(2013.59,2.23),(2013.69,2.48),(2013.79,2.35),(2013.9,2.0),(2013.98,1.63),(2014.06,2.48),
        (2014.17,2.72),(2014.27,2.96),(2014.37,3.2),(2014.48,3.2),(2014.58,2.6),(2014.66,2.72),(2014.76,2.96),
        (2014.85,3.2),(2014.95,2.84),(2015.05,2.48),(2015.16,2.23),(2015.26,2.0),(2015.36,1.63),(2015.47,1.38),
        (2015.57,1.26),(2015.67,1.31),(2015.78,1.14),(2015.88,0.9),(2015.98,1.14),(2016.09,1.26),(2016.19,1.26),
        (2016.29,1.38),(2016.4,1.38),(2016.5,1.5),(2016.6,1.63),(2016.71,1.63),(2016.81,1.75),(2016.92,2.23),
        (2017.0,1.63),(2017.1,1.75),(2017.2,1.75),(2017.31,1.87),(2017.41,1.75),(2017.51,1.75),(2017.62,2.0),
        (2017.72,1.75),(2017.82,1.75),(2017.93,1.75),(2018.03,2.35),(2018.13,2.96),(2018.24,2.72),(2018.34,2.6),
        (2018.44,2.35),(2018.55,2.23),(2018.65,2.35),(2018.75,2.11),(2018.86,2.11),(2018.96,1.87),(2019.06,1.87),
        (2019.17,2.23),(2019.27,2.72),(2019.37,2.96),(2019.48,2.84),(2019.58,3.45),(2019.68,4.05),(2019.79,4.3),
        (2019.89,4.54),(2019.97,4.17),(2020.06,4.3),(2020.14,3.7),(2020.23,4.05),(2020.31,4.17),(2020.36,5.15),
        (2020.4,14.6),(2020.47,16.55),(2020.53,17.04),(2020.59,17.4),(2020.63,13.64),(2020.67,9.76),(2020.74,10.73),
        (2020.8,10.73),(2020.86,9.76),(2020.92,8.79),(2020.98,9.27),(2021.05,9.76),(2021.11,10.0),(2021.17,9.64),
        (2021.25,9.5),(2021.31,9.0),(2021.36,4.9),(2021.4,-3.6),(2021.46,-4.8),(2021.52,-5.5),(2021.58,-5.5),
        (2021.64,0.05),(2021.7,2.96),(2021.77,2.72),(2021.83,2.48),(2021.91,3.7),(2021.99,3.2),(2022.08,2.48),
        (2022.16,2.0),(2022.25,1.63),(2022.33,1.38),(2022.41,1.75),(2022.49,2.11),(2022.58,2.35),(2022.66,1.26),
        (2022.74,-0.07),(2022.82,-0.07),(2022.9,1.0),(2022.99,2.11),(2023.07,0.9),(2023.15,1.38),(2023.24,1.5),
        (2023.32,1.75),(2023.4,2.35),(2023.49,2.23),(2023.57,2.35),(2023.65,2.84),(2023.73,3.2),(2023.81,3.57),
        (2023.9,1.38),(2023.98,2.0),(2024.07,2.72),(2024.15,3.45),(2024.23,3.93),(2024.31,3.45),(2024.39,3.2),
        (2024.48,3.2),(2024.56,3.2),(2024.64,2.96),(2024.72,3.45),(2024.8,2.84),(2024.89,3.81),(2024.97,2.96),
        (2025.05,3.45),(2025.13,3.45),(2025.22,4.05),(2025.3,3.57),(2025.38,4.05),(2025.47,3.98),(2025.55,4.05),
        (2025.63,4.05),(2025.71,2.84),(2025.8,2.72),(2025.88,2.48),(2025.94,1.26),(2026.0,1.87),(2026.06,2.0)]

titles = ["Repo rate (%)", "CPI inflation (% YoY)", "USD/ZAR", "VIX",
          "US 2Y yield (%)", "US 10Y yield (%)", "Foreign bond flows (12m, R bn)", "\u0394 debt/GDP (12m, pp)"]
series_list = [repo, cpi, zar, vix, us2y, us10y, flows, debt]
colors = ["tab:blue", "tab:orange", "tab:green", "tab:red",
          "tab:purple", "tab:brown", "tab:pink", "tab:cyan"]
zero_line = [False, False, False, False, False, False, True, True]
suptitle = "The macro stack: four domestic, two global, two flow/fiscal"

# ---------------- figure ----------------
DPI = 140
fig = plt.figure(figsize=(2234 / DPI, 995 / DPI), dpi=DPI)
lefts = [0.0300, 0.2801, 0.5301, 0.7802]
bottoms = [0.5025, 0.0486]
w, h = 0.2135, 0.3699

for i, (title, ser, col, zl) in enumerate(zip(titles, series_list, colors, zero_line)):
    ax = fig.add_axes([lefts[i % 4], bottoms[i // 4], w, h])
    t = [p[0] for p in ser]
    v = [p[1] for p in ser]
    if zl:
        ax.axhline(0, color="#bbbbbb", lw=0.8, zorder=1)
    ax.plot(t, v, color=col, lw=1.4, zorder=2)
    ax.set_title(title, fontsize=11)
    ax.xaxis.set_major_locator(MultipleLocator(4))
    ax.xaxis.set_major_formatter(FuncFormatter(lambda x, p: f"{int(round(x))}"))
    ax.tick_params(labelsize=8)
    ax.spines["top"].set_visible(False)
    ax.spines["right"].set_visible(False)

fig.suptitle(suptitle, fontsize=13, y=0.9745, va="center")
fig.savefig("out.png", dpi=DPI)
